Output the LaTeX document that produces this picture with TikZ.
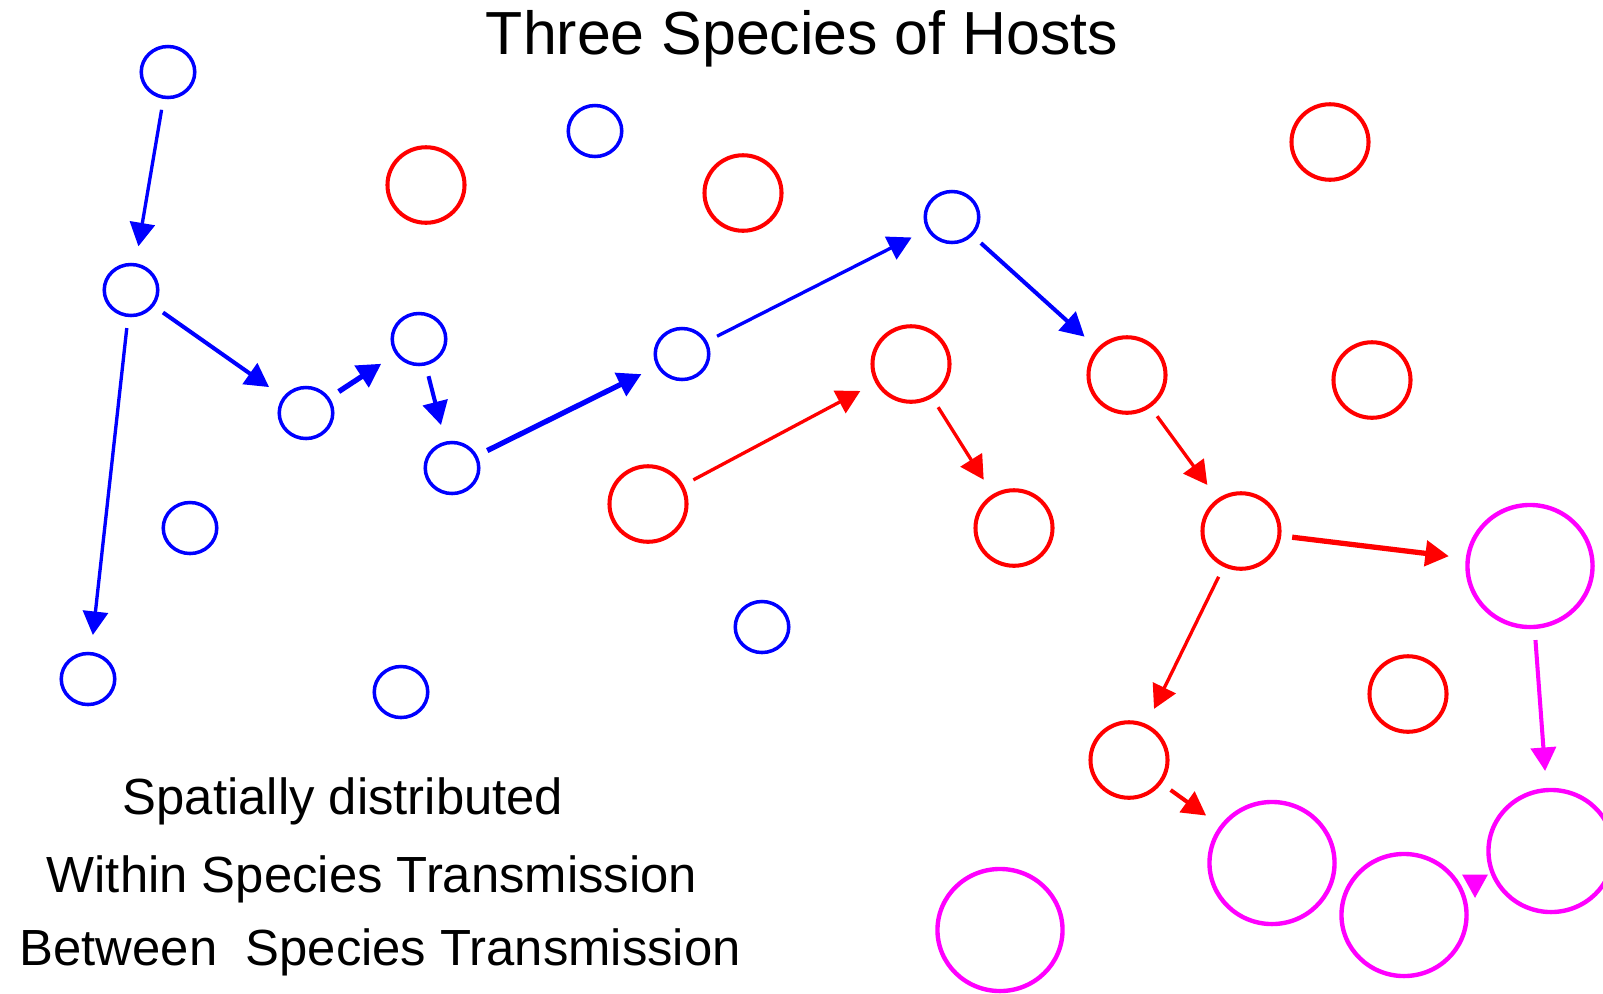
\documentclass[tikz,border=0pt]{standalone}
\usepackage{fontspec}
\setmainfont{Liberation Sans}
\usetikzlibrary{shapes.geometric,arrows.meta}
\definecolor{hostblue}{RGB}{0,0,255}
\definecolor{hostred}{RGB}{255,0,0}
\definecolor{hostmagenta}{RGB}{255,0,255}

\begin{document}
\begin{tikzpicture}[x=0.01cm,y=-0.01cm]
	\tikzset{
  		blue host/.style= {color = hostblue, draw, shape=ellipse, line width=1.0pt, inner sep=0pt, minimum width=0.535cm, minimum height=0.51cm},
  		red host/.style= {color = hostred, draw, shape=ellipse, line width=1.15pt, inner sep=0pt, minimum width=0.77cm, minimum height=0.755cm},
  		magenta host/.style= {color = hostmagenta, draw, shape=ellipse, line width=1.25pt, inner sep=0pt, minimum width=1.25cm, minimum height=1.22cm},
  		link/.style= {-{Triangle[length=0.235cm,width=0.25cm]}, shorten <=0.11cm, shorten >=0.17cm, line width=0.95pt},
  		mid link/.style= {link, line width=1.15pt},
  		thick link/.style= {link, line width=1.5pt},
  		caption/.style= {anchor=base west, inner sep=0pt, font=\fontsize{14.45}{17}\selectfont}
		}
	\useasboundingbox (0,0) rectangle (1603,993);

	% species one
	\path 	(168,72) node [name=b1, blue host] {}
			(595,131) node [name=b2, blue host] {}
			(131,290) node [name=b3, blue host] {}
			(306,413) node [name=b4, blue host] {}
			(419,339) node [name=b5, blue host] {}
			(452,468) node [name=b6, blue host] {}
			(682,354) node [name=b7, blue host] {}
			(952,217) node [name=b8, blue host] {}
			(190,528) node [name=b9, blue host] {}
			(88,679) node [name=b10, blue host] {}
			(401,692) node [name=b11, blue host] {}
			(762,627) node [name=b12, blue host] {};

	% species two
	\path 	(426,185) node [name=r1, red host] {}
			(743,193) node [name=r2, red host] {}
			(648,504) node [name=r3, red host] {}
			(911,364) node [name=r4, red host] {}
			(1127,375) node [name=r5, red host] {}
			(1014,528) node [name=r6, red host] {}
			(1241,531) node [name=r7, red host] {}
			(1330,142) node [name=r8, red host] {}
			(1372,380) node [name=r9, red host] {}
			(1129,760) node [name=r10, red host] {}
			(1408,694) node [name=r11, red host] {};

	% species three
	\path 	(1000,930) node [name=m1, magenta host] {}
			(1272,863) node [name=m2, magenta host] {}
			(1530,566) node [name=m3, magenta host] {}
			(1404,915) node [name=m4, magenta host] {}
			(1551,851) node [name=m5, magenta host] {};

	\draw [hostblue, link] (b1) -- (b3);
	\draw [hostblue, mid link] (b3) -- (b4);
	\draw [hostblue, thick link] (b4) -- (b5);
	\draw [hostblue, mid link] (b5) -- (b6);
	\draw [hostblue, link] (b3) -- (b10);
	\draw [hostblue, thick link] (b6) -- (b7);
	\draw [hostblue, link] (b7) -- (b8);
	\draw [hostblue, mid link] (b8) -- (r5);

	\draw [hostred, link] (r3) -- (r4);
	\draw [hostred, link] (r4) -- (r6);
	\draw [hostred, link] (r5) -- (r7);
	\draw [hostred, link] (r7) -- (r10);
	\draw [hostred, mid link] (r10) -- (m2);
	\draw [hostred, thick link] (r7) -- (m3);

	\draw [hostmagenta, mid link] (m3) -- (m5);
	\coordinate (m4 out) at (1475,876);
	\coordinate (m4 tip) at (1475,898);
	\draw [hostmagenta, link, shorten <=0pt, shorten >=0pt] (m4 out) -- (m4 tip);

	\node [anchor=base, inner sep=0pt, font=\fontsize{17.3}{20}\selectfont] (title) at (802,54) {Three Species of Hosts};
	\node [caption] (spatial) at (122,814) {Spatially distributed};
	\node [caption] (within) at (46,892) {Within Species Transmission};
	\node [caption] (between) at (19,965) {Between\ \ Species Transmission};

\end{tikzpicture}
\end{document}
